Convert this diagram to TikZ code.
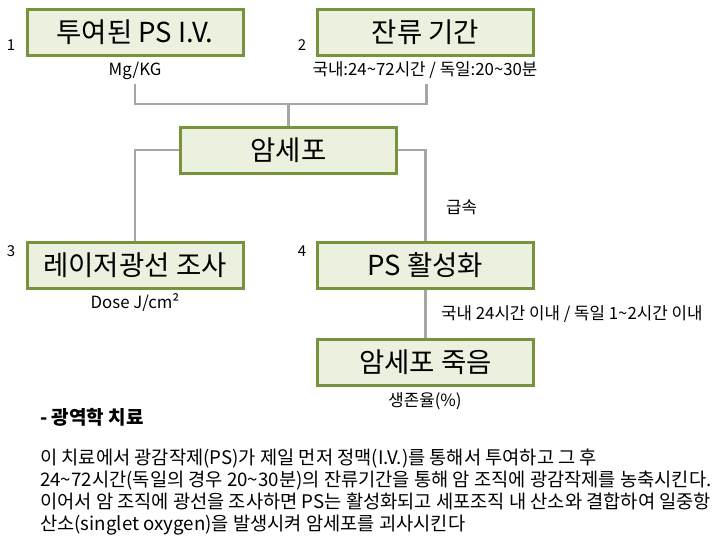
\documentclass[tikz,border=0pt]{standalone}
\usepackage{fontspec}
\setmainfont{Noto Sans CJK KR}
\definecolor{boxfill}{HTML}{EBF1DE}
\definecolor{boxline}{HTML}{77933C}
\definecolor{conn}{HTML}{A6A6A6}
\begin{document}
\begin{tikzpicture}[x=1pt,y=-1pt,
  stepbox/.style={draw=boxline,fill=boxfill,line width=3pt,minimum width=216pt,minimum height=46pt,inner sep=0pt,font=\fontsize{27.5}{30}\selectfont},
  lbl/.style={inner sep=0pt,font=\fontsize{16.8}{19}\selectfont},
  num/.style={inner sep=0pt,font=\fontsize{15}{17}\selectfont},
  para/.style={inner sep=0pt,anchor=base west,font=\fontsize{18.7}{21}\selectfont},
  link/.style={draw=conn,line width=2.5pt}]
\useasboundingbox (0,0) rectangle (728,542);
% boxes
\node[stepbox] (b1) at (135,32) {투여된 PS I.V.};
\node[stepbox] (b2) at (425.5,32) {잔류 기간};
\node[stepbox] (cell) at (288.5,150) {암세포};
\node[stepbox] (b3) at (135,265) {레이저광선 조사};
\node[stepbox] (b4) at (425.5,265) {PS 활성화};
\node[stepbox] (b5) at (425.5,362) {암세포 죽음};
% numbers
\node[num] (n1) at (11,45) {1};
\node[num] (n2) at (302,45) {2};
\node[num] (n3) at (11,251) {3};
\node[num] (n4) at (302,251) {4};
% labels
\node[lbl] (mg) at (135,71) {Mg/KG};
\node[lbl] (dur) at (425,70) {국내:24\textasciitilde72시간 / 독일:20\textasciitilde30분};
\node[lbl,anchor=west] (fast) at (446,207) {급속};
\node[lbl] (dose) at (135,303) {Dose J/cm²};
\node[lbl,anchor=west] (time) at (441,314) {국내 24시간 이내 / 독일 1\textasciitilde2시간 이내};
\node[lbl] (surv) at (425,401) {생존율(\%)};
% connectors
\coordinate (mgend) at (135,84);
\coordinate (durend) at (426.5,84);
\coordinate (join) at (288.5,104);
\draw[link] (mgend) |- (join) -| (durend);
\draw[link] (join) -- (cell.north);
\draw[link] (cell.west) -| (b3.north);
\draw[link] (cell.east) -| (b4.north);
\draw[link] (b4.south) -- (b5.north);
% text
\node[para,font=\fontsize{19}{21}\selectfont\bfseries] (head) at (40,424) {- 광역학 치료};
\node[para] (p1) at (40,464) {이 치료에서 광감작제(PS)가 제일 먼저 정맥(I.V.)를 통해서 투여하고 그 후};
\node[para] (p2) at (40,486) {24\textasciitilde72시간(독일의 경우 20\textasciitilde30분)의 잔류기간을 통해 암 조직에 광감작제를 농축시킨다.};
\node[para] (p3) at (40,508) {이어서 암 조직에 광선을 조사하면 PS는 활성화되고 세포조직 내 산소와 결합하여 일중항};
\node[para] (p4) at (40,530) {산소(singlet oxygen)을 발생시켜 암세포를 괴사시킨다};
\end{tikzpicture}
\end{document}
